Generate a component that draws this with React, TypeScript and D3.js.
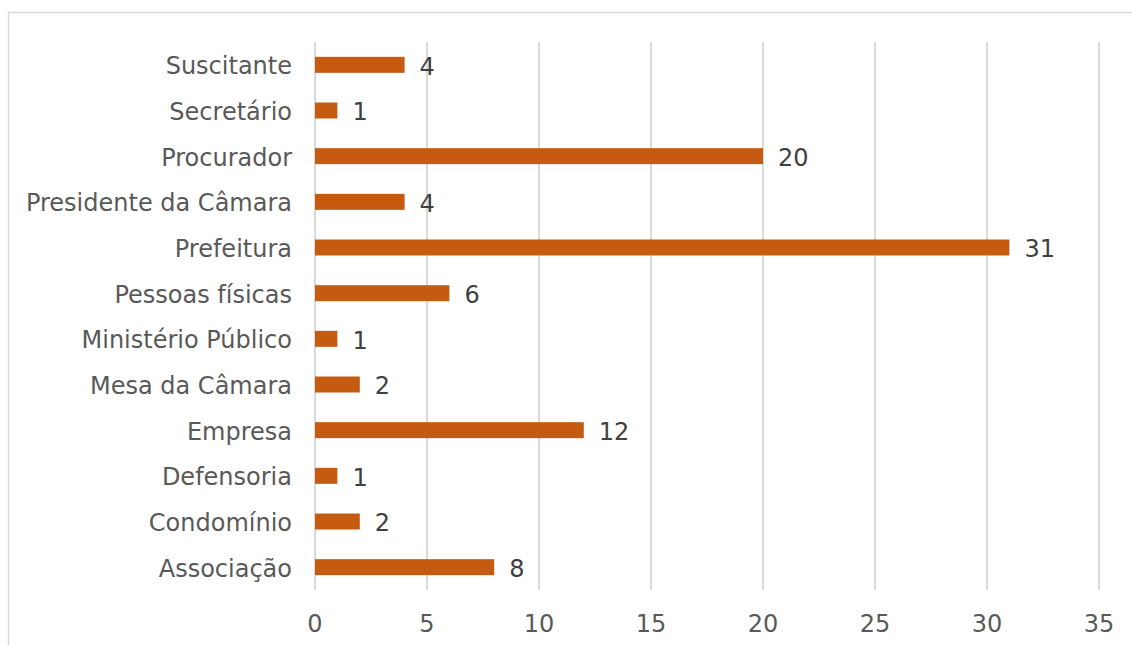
import React from "react";
import * as d3 from "d3";

const categories = [
  "Suscitante",
  "Secretário",
  "Procurador",
  "Presidente da Câmara",
  "Prefeitura",
  "Pessoas físicas",
  "Ministério Público",
  "Mesa da Câmara",
  "Empresa",
  "Defensoria",
  "Condomínio",
  "Associação",
];
const values = [4, 1, 20, 4, 31, 6, 1, 2, 12, 1, 2, 8];
const xTicks = [0, 5, 10, 15, 20, 25, 30, 35];

const W = 1132;
const H = 645;
const FONT = "'DejaVu Sans', Verdana, sans-serif";

export default function App() {
  const x = d3.scaleLinear().domain([0, 35]).range([315, 1099]);
  const y = d3.scaleBand<string>().domain(categories).range([42, 590]).paddingInner(0.65).paddingOuter(0.325);

  return (
    <svg width={W} height={H} style={{ position: "absolute", left: 0, top: 0 }}>
      <rect x={0} y={0} width={W} height={H} fill="#fff" />
      <rect x={8.5} y={12.5} width={W + 20} height={H + 20} fill="none" stroke="#d9d9d9" strokeWidth={1.5} />
      {xTicks.map((t) => (
        <line key={"g" + t} x1={x(t)} x2={x(t)} y1={42} y2={590} stroke="#d9d9d9" strokeWidth={2} />
      ))}
      {categories.map((c, i) => (
        <g key={c}>
          <rect x={x(0)} y={y(c)!} width={x(values[i]) - x(0)} height={y.bandwidth()} fill="#C55A11" />
          <text
            x={x(values[i]) + 15}
            y={y(c)! + y.bandwidth() / 2 + 1.5}
            dy="0.35em"
            fontFamily={FONT}
            fontSize={24}
            fill="#404040"
          >
            {values[i]}
          </text>
          <text
            x={292}
            y={y(c)! + y.bandwidth() / 2 + 1}
            dy="0.35em"
            textAnchor="end"
            fontFamily={FONT}
            fontSize={24}
            fill="#595959"
          >
            {c}
          </text>
        </g>
      ))}
      {xTicks.map((t) => (
        <text
          key={"t" + t}
          x={x(t)}
          y={623.5}
          dy="0.35em"
          textAnchor="middle"
          fontFamily={FONT}
          fontSize={24}
          fill="#595959"
        >
          {t}
        </text>
      ))}
    </svg>
  );
}
